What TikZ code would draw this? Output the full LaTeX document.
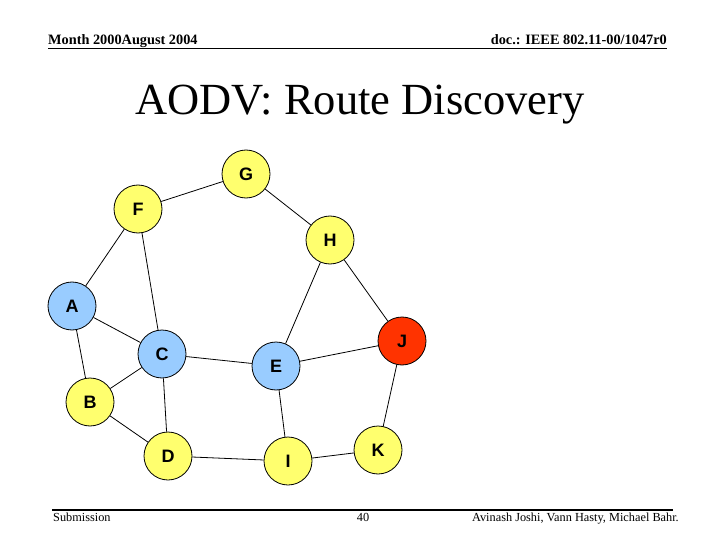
\documentclass[tikz,border=0pt]{standalone}
\usepackage{fontspec}
\setmainfont{Liberation Serif}
\newfontfamily\nodefont{Liberation Sans}
\definecolor{nyellow}{RGB}{255,255,110}
\definecolor{nblue}{RGB}{153,204,255}
\definecolor{nred}{RGB}{255,51,0}
\begin{document}
\begin{tikzpicture}[x=1pt,y=-1pt,
  nd/.style={circle,draw=black,line width=0.8pt,minimum size=48pt,inner sep=0pt,font=\nodefont\bfseries\fontsize{18}{18}\selectfont},
  yel/.style={nd,fill=nyellow},
  blu/.style={nd,fill=nblue},
  rd/.style={nd,fill=nred},
  edge/.style={line width=0.8pt}]
\useasboundingbox (0,0) rectangle (720,540);
% header
\node[anchor=base west,inner sep=0pt,font=\bfseries\fontsize{14.3}{14}\selectfont] (hl) at (48,45) {Month 2000August 2004};
\node[anchor=base east,inner sep=0pt,font=\bfseries\fontsize{14.3}{14}\selectfont] (hr) at (667,45) {doc.: IEEE 802.11-00/1047r0};
\coordinate (h1) at (48,48.5);
\coordinate (h2) at (667,48.5);
\draw[line width=1.8pt] (h1) -- (h2);
% title
\node[anchor=base,inner sep=0pt,font=\fontsize{44.5}{44}\selectfont] (title) at (360,115) {AODV: Route Discovery};
% footer
\coordinate (f1) at (52,510);
\coordinate (f2) at (673,510);
\draw[line width=1.8pt] (f1) -- (f2);
\node[anchor=base west,inner sep=0pt,font=\fontsize{12.3}{12}\selectfont] (fl) at (53,521) {Submission};
\node[anchor=base,inner sep=0pt,font=\fontsize{12.3}{12}\selectfont] (fc) at (363,521) {40};
\node[anchor=base east,inner sep=0pt,font=\fontsize{12.3}{12}\selectfont] (fr) at (679,521) {Avinash Joshi, Vann Hasty, Michael Bahr.};
% nodes
\node[yel] (G) at (246,174) {G};
\node[yel] (F) at (138,209) {F};
\node[yel] (H) at (330,240) {H};
\node[blu] (A) at (72,306) {A};
\node[blu] (C) at (162,354) {C};
\node[blu] (E) at (276,366) {E};
\node[rd]  (J) at (402,341) {J};
\node[yel] (B) at (90,402) {B};
\node[yel] (D) at (168,456) {D};
\node[yel] (I) at (288,461) {I};
\node[yel] (K) at (378,450) {K};
% edges
\draw[edge] (G) -- (F);
\draw[edge] (G) -- (H);
\draw[edge] (F) -- (A);
\draw[edge] (F) -- (C);
\draw[edge] (A) -- (C);
\draw[edge] (A) -- (B);
\draw[edge] (B) -- (C);
\draw[edge] (B) -- (D);
\draw[edge] (C) -- (D);
\draw[edge] (C) -- (E);
\draw[edge] (H) -- (E);
\draw[edge] (H) -- (J);
\draw[edge] (E) -- (J);
\draw[edge] (E) -- (I);
\draw[edge] (J) -- (K);
\draw[edge] (D) -- (I);
\draw[edge] (I) -- (K);
\end{tikzpicture}
\end{document}
